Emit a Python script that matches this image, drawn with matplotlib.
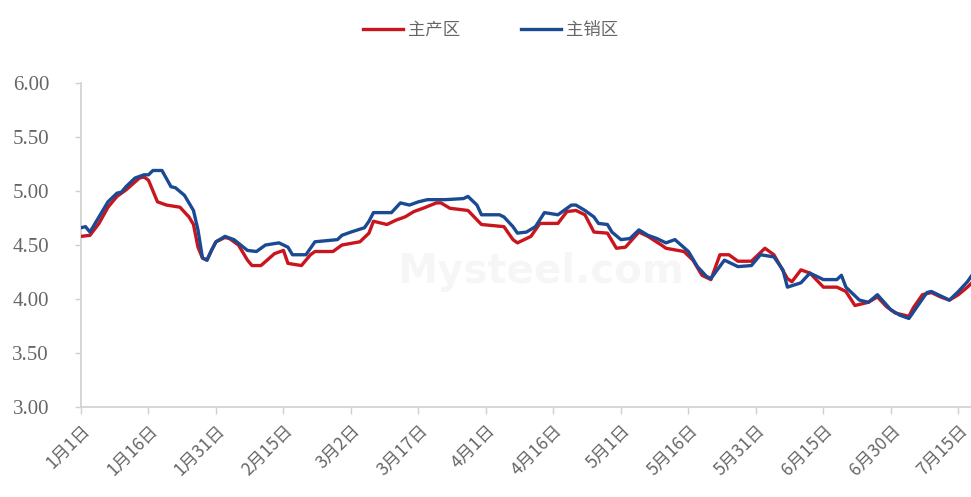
import matplotlib
matplotlib.use("Agg")
import matplotlib.pyplot as plt
import pandas as pd

# 主产区 price series
main_prod_dates = [
    "01-01", "01-03", "01-05", "01-07", "01-09", "01-11", "01-14", "01-15", "01-16", "01-18",
    "01-20", "01-23", "01-25", "01-26", "01-27", "01-28", "01-29", "01-30", "01-31", "02-02",
    "02-03", "02-05", "02-07", "02-08", "02-10", "02-13", "02-15", "02-16", "02-19", "02-21",
    "02-22", "02-26", "02-28", "03-04", "03-06", "03-07", "03-10", "03-12", "03-14", "03-16",
    "03-18", "03-21", "03-22", "03-24", "03-28", "03-31", "04-05", "04-07", "04-08", "04-11",
    "04-13", "04-17", "04-19", "04-21", "04-23", "04-25", "04-28", "04-30", "05-02", "05-05",
    "05-07", "05-10", "05-11", "05-15", "05-17", "05-19", "05-21", "05-23", "05-25", "05-27",
    "05-30", "06-02", "06-04", "06-07", "06-08", "06-10", "06-12", "06-15", "06-18", "06-20",
    "06-22", "06-25", "06-27", "06-29", "07-01", "07-04", "07-05", "07-07", "07-09", "07-11",
    "07-13", "07-15", "07-17", "07-18",
]
main_prod_values = [
    4.58, 4.59, 4.70, 4.85, 4.95, 5.01, 5.12, 5.13, 5.10, 4.90,
    4.87, 4.85, 4.76, 4.69, 4.48, 4.38, 4.36, 4.45, 4.53, 4.57,
    4.56, 4.50, 4.36, 4.31, 4.31, 4.42, 4.45, 4.33, 4.31, 4.41,
    4.44, 4.44, 4.50, 4.53, 4.61, 4.72, 4.69, 4.73, 4.76, 4.81,
    4.84, 4.89, 4.89, 4.84, 4.82, 4.69, 4.67, 4.55, 4.52, 4.58,
    4.70, 4.70, 4.81, 4.82, 4.78, 4.62, 4.61, 4.47, 4.48, 4.62,
    4.58, 4.50, 4.47, 4.44, 4.36, 4.22, 4.18, 4.41, 4.41, 4.35,
    4.35, 4.47, 4.41, 4.19, 4.16, 4.27, 4.24, 4.11, 4.11, 4.07,
    3.94, 3.97, 4.02, 3.93, 3.87, 3.84, 3.92, 4.04, 4.06, 4.02,
    3.99, 4.04, 4.11, 4.15,
]

# 主销区 price series
main_sale_dates = [
    "01-01", "01-02", "01-03", "01-05", "01-07", "01-09", "01-10", "01-11", "01-13", "01-15",
    "01-16", "01-17", "01-19", "01-21", "01-22", "01-24", "01-26", "01-27", "01-28", "01-29",
    "01-30", "01-31", "02-02", "02-04", "02-07", "02-09", "02-11", "02-14", "02-16", "02-17",
    "02-20", "02-22", "02-27", "02-28", "03-02", "03-05", "03-06", "03-07", "03-11", "03-13",
    "03-15", "03-17", "03-19", "03-23", "03-27", "03-28", "03-30", "03-31", "04-04", "04-05",
    "04-07", "04-08", "04-10", "04-12", "04-14", "04-17", "04-20", "04-21", "04-23", "04-25",
    "04-26", "04-28", "04-29", "05-01", "05-03", "05-05", "05-07", "05-09", "05-11", "05-13",
    "05-16", "05-18", "05-20", "05-21", "05-24", "05-27", "05-30", "06-01", "06-04", "06-06",
    "06-07", "06-10", "06-12", "06-15", "06-18", "06-19", "06-20", "06-23", "06-25", "06-27",
    "06-30", "07-02", "07-04", "07-05", "07-08", "07-09", "07-13", "07-15", "07-17", "07-18",
]
main_sale_values = [
    4.66, 4.67, 4.62, 4.76, 4.90, 4.98, 4.99, 5.04, 5.12, 5.15,
    5.15, 5.19, 5.19, 5.04, 5.03, 4.96, 4.82, 4.64, 4.38, 4.36,
    4.45, 4.53, 4.58, 4.55, 4.45, 4.44, 4.50, 4.52, 4.48, 4.41,
    4.41, 4.53, 4.55, 4.59, 4.62, 4.66, 4.72, 4.80, 4.80, 4.89,
    4.87, 4.90, 4.92, 4.92, 4.93, 4.95, 4.87, 4.78, 4.78, 4.76,
    4.67, 4.61, 4.62, 4.67, 4.80, 4.78, 4.87, 4.87, 4.82, 4.76,
    4.70, 4.69, 4.62, 4.55, 4.56, 4.64, 4.59, 4.56, 4.52, 4.55,
    4.44, 4.30, 4.21, 4.19, 4.36, 4.30, 4.31, 4.41, 4.39, 4.27,
    4.11, 4.15, 4.24, 4.18, 4.18, 4.22, 4.11, 3.99, 3.97, 4.04,
    3.90, 3.85, 3.82, 3.88, 4.06, 4.07, 3.99, 4.07, 4.16, 4.22,
]

series_names = ["主产区", "主销区"]
y_ticks = [3.00, 3.50, 4.00, 4.50, 5.00, 5.50, 6.00]
YEAR = "2023"

RED = "#C9151E"
BLUE = "#1A4A93"
AXIS_GRAY = "#D0D0D0"
TEXT_GRAY = "#666666"

plt.rcParams["font.family"] = ["Noto Sans CJK SC", "DejaVu Sans"]


def to_dates(md_list):
    return pd.to_datetime([f"{YEAR}-{md}" for md in md_list])


x_prod = to_dates(main_prod_dates)
x_sale = to_dates(main_sale_dates)

fig = plt.figure(figsize=(9.71, 4.97), dpi=100)
ax = fig.add_axes([0.0834, 0.181, 0.9166, 0.652])

ax.plot(x_prod, main_prod_values, color=RED, lw=2.4, label=series_names[0],
        solid_joinstyle="round", zorder=3)
ax.plot(x_sale, main_sale_values, color=BLUE, lw=2.4, label=series_names[1],
        solid_joinstyle="round", zorder=4)

start = pd.Timestamp(f"{YEAR}-01-01")
ax.set_xlim(start, start + pd.Timedelta(days=197.8))
ax.set_ylim(y_ticks[0], y_ticks[-1])

tick_dates = pd.date_range(start, pd.Timestamp(f"{YEAR}-07-15"), freq="15D")
ax.set_xticks(tick_dates)
ax.set_xticklabels([f"{d.month}月{d.day}日" for d in tick_dates],
                   rotation=45, ha="right", rotation_mode="anchor",
                   fontsize=12.5, color=TEXT_GRAY, fontweight="light")

ax.set_yticks(y_ticks)
ax.set_yticklabels([f"{v:.2f}" for v in y_ticks],
                   family=["Liberation Serif"], fontsize=15, color=TEXT_GRAY)

for side in ["top", "right"]:
    ax.spines[side].set_visible(False)
for side in ["left", "bottom"]:
    ax.spines[side].set_color(AXIS_GRAY)
    ax.spines[side].set_linewidth(1.2)

ax.tick_params(axis="x", direction="out", length=5, width=1.0, color=AXIS_GRAY, pad=5)
ax.tick_params(axis="y", direction="out", length=4, width=1.0, color=AXIS_GRAY, pad=19)

# faint site watermark
ax.text(0.516, 0.417, "Mysteel.com", transform=ax.transAxes, ha="center", va="center",
        fontsize=29, fontweight="bold", color="#000000", alpha=0.035,
        family=["DejaVu Sans"], zorder=1)

leg = fig.legend(loc="upper center", bbox_to_anchor=(0.505, 0.99), ncol=2,
                 frameon=False, handlelength=2.3, handletextpad=0.3,
                 columnspacing=3.5, prop={"weight": "light", "size": 12.5})
for txt in leg.get_texts():
    txt.set_color(TEXT_GRAY)

fig.savefig("out.png", dpi=100)
